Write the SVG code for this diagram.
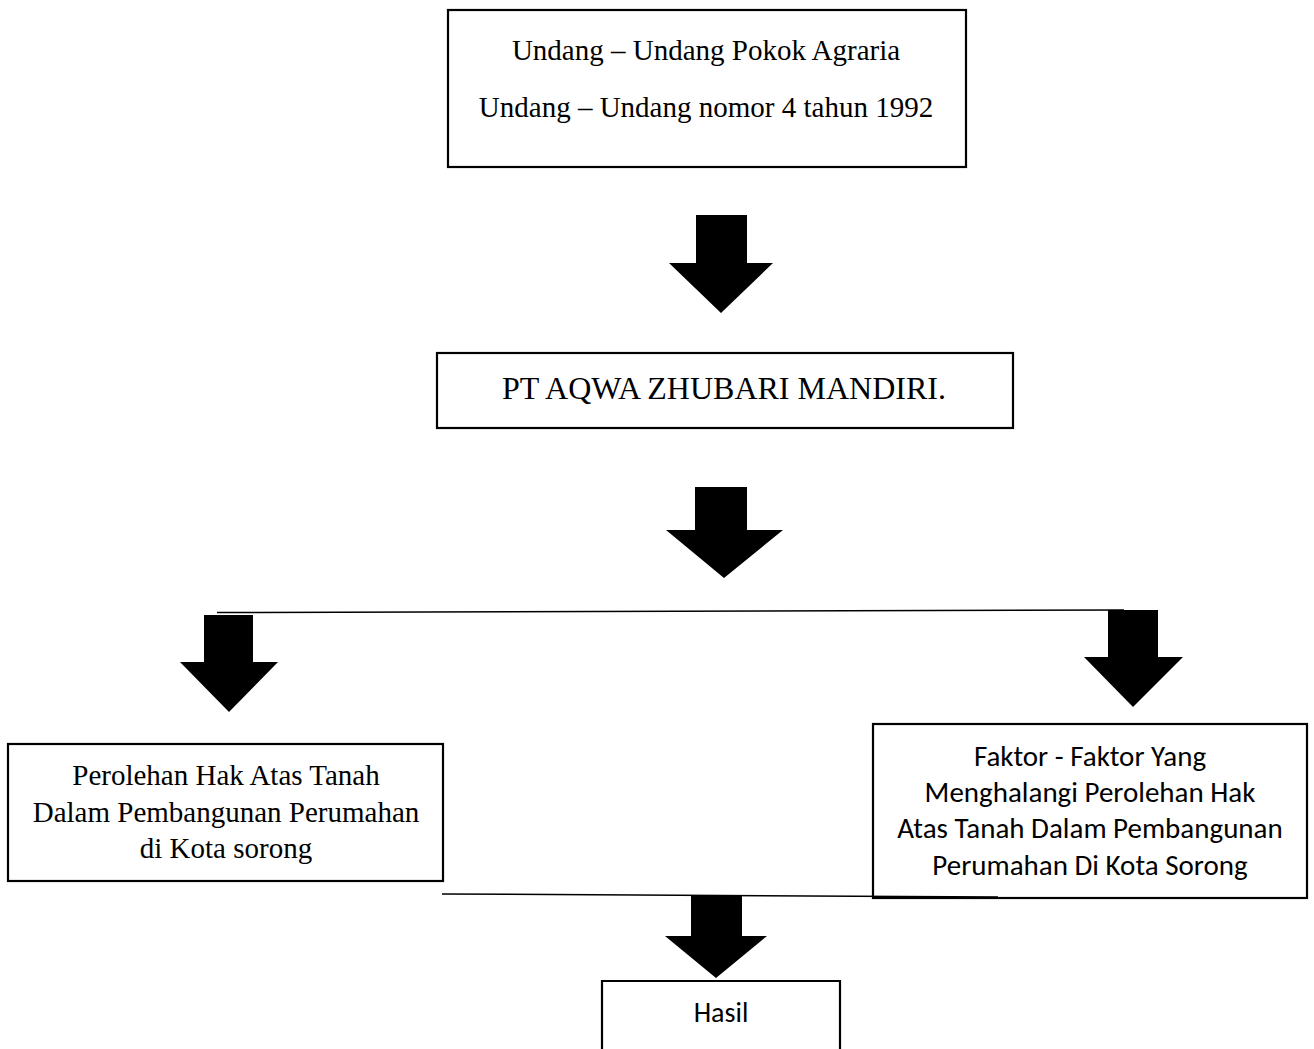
<svg xmlns="http://www.w3.org/2000/svg" width="1314" height="1049" viewBox="0 0 1314 1049">
<style>
.box{fill:#fff;stroke:#000;stroke-width:2.2}
.serif{font-family:"Liberation Serif","Times New Roman",serif;font-size:29px;fill:#000;text-anchor:middle}
.sans{font-family:Carlito,Calibri,Lato,sans-serif;font-size:29px;fill:#000;text-anchor:middle}
.arrow{fill:#000}
.line{stroke:#000;stroke-width:1.5;fill:none}
</style>
<rect width="1314" height="1049" fill="#fff"/>
<g id="node-uu">
<rect class="box" x="448" y="10" width="518" height="157"/>
<text class="serif" x="706" y="60">Undang – Undang Pokok Agraria</text>
<text class="serif" x="706" y="117">Undang – Undang nomor 4 tahun 1992</text>
</g>
<g id="node-pt">
<rect class="box" x="437" y="353" width="576" height="75"/>
<text class="serif" x="724" y="399" style="font-size:32px">PT AQWA ZHUBARI MANDIRI.</text>
</g>
<g id="node-perolehan">
<rect class="box" x="8" y="744" width="435" height="137"/>
<text class="serif" x="226" y="785">Perolehan Hak Atas Tanah</text>
<text class="serif" x="226" y="822">Dalam Pembangunan Perumahan</text>
<text class="serif" x="226" y="858">di Kota sorong</text>
</g>
<g id="node-faktor">
<rect class="box" x="873" y="724" width="434" height="174"/>
<text class="sans" x="1090" y="766">Faktor - Faktor Yang</text>
<text class="sans" x="1090" y="802">Menghalangi Perolehan Hak</text>
<text class="sans" x="1090" y="838">Atas Tanah Dalam Pembangunan</text>
<text class="sans" x="1090" y="875">Perumahan Di Kota Sorong</text>
</g>
<g id="node-hasil">
<path class="box" d="M602,1052 V981 H840 V1052"/>
<text class="sans" x="721" y="1022" style="font-size:28px">Hasil</text>
</g>
<g id="connectors">
<line class="line" x1="217" y1="612.5" x2="1124" y2="610"/>
<line class="line" x1="442" y1="894" x2="998" y2="897"/>
<polygon class="arrow" points="696,215 747,215 747,263 773,263 721,313 669,263 696,263"/>
<polygon class="arrow" points="695,487 747,487 747,530 783,530 724,578 666,530 695,530"/>
<polygon class="arrow" points="204,615 253,615 253,662 278,662 229,712 180,662 204,662"/>
<polygon class="arrow" points="1108,610 1158,610 1158,657 1183,657 1133,707 1084,657 1108,657"/>
<polygon class="arrow" points="691,896 742,896 742,936 767,936 716,978 665,936 691,936"/>
</g>
</svg>
